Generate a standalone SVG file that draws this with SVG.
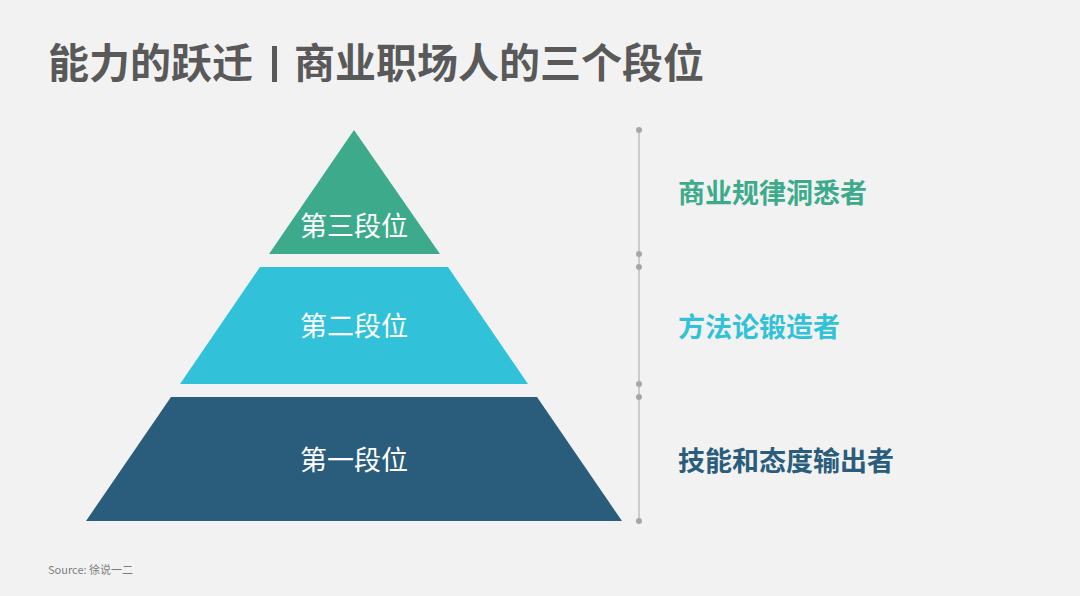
<svg xmlns="http://www.w3.org/2000/svg" width="1080" height="596" viewBox="0 0 1080 596">
<style>
.t{font-family:"Noto Sans CJK SC","Liberation Sans",sans-serif}
.in{font-size:27px;fill:#fff}
.lb{font-size:27px;font-weight:bold}
.dot{fill:#a6a6a6}
.ti{font-size:41px;font-weight:bold;fill:#595959}
</style>
<rect width="1080" height="596" fill="#f2f2f2"/>
<text class="t ti" x="48" y="78">能力的跃迁</text>
<rect x="272" y="46" width="5" height="36" fill="#595959"/>
<text class="t ti" x="294" y="78">商业职场人的三个段位</text>
<g id="tier3"><polygon points="354,130 440,254 269,254" fill="#3dab8b"/><text class="t in" x="354" y="236" text-anchor="middle">第三段位</text></g>
<g id="tier2"><polygon points="260,267 448,267 528,384 180,384" fill="#31c2d9"/><text class="t in" x="354" y="336" text-anchor="middle">第二段位</text></g>
<g id="tier1"><polygon points="171,397 537,397 622,521 86,521" fill="#2a5d7c"/><text class="t in" x="354" y="470" text-anchor="middle">第一段位</text></g>
<g id="connectors" stroke="#bfbfbf" stroke-width="1.5"><line x1="639" y1="130" x2="639" y2="521"/></g>
<g id="dots"><circle class="dot" cx="639" cy="130" r="3"/><circle class="dot" cx="639" cy="254" r="3"/><circle class="dot" cx="639" cy="267" r="3"/><circle class="dot" cx="639" cy="384" r="3"/><circle class="dot" cx="639" cy="397" r="3"/><circle class="dot" cx="639" cy="521" r="3"/></g>
<g id="label3"><text class="t lb" x="678" y="203" fill="#3dab8b">商业规律洞悉者</text></g>
<g id="label2"><text class="t lb" x="678" y="337" fill="#31c2d9">方法论锻造者</text></g>
<g id="label1"><text class="t lb" x="678" y="471" fill="#2a5d7c">技能和态度输出者</text></g>
<text class="t" x="48" y="574" font-size="11" fill="#7f7f7f">Source: 徐说一二</text>
</svg>
